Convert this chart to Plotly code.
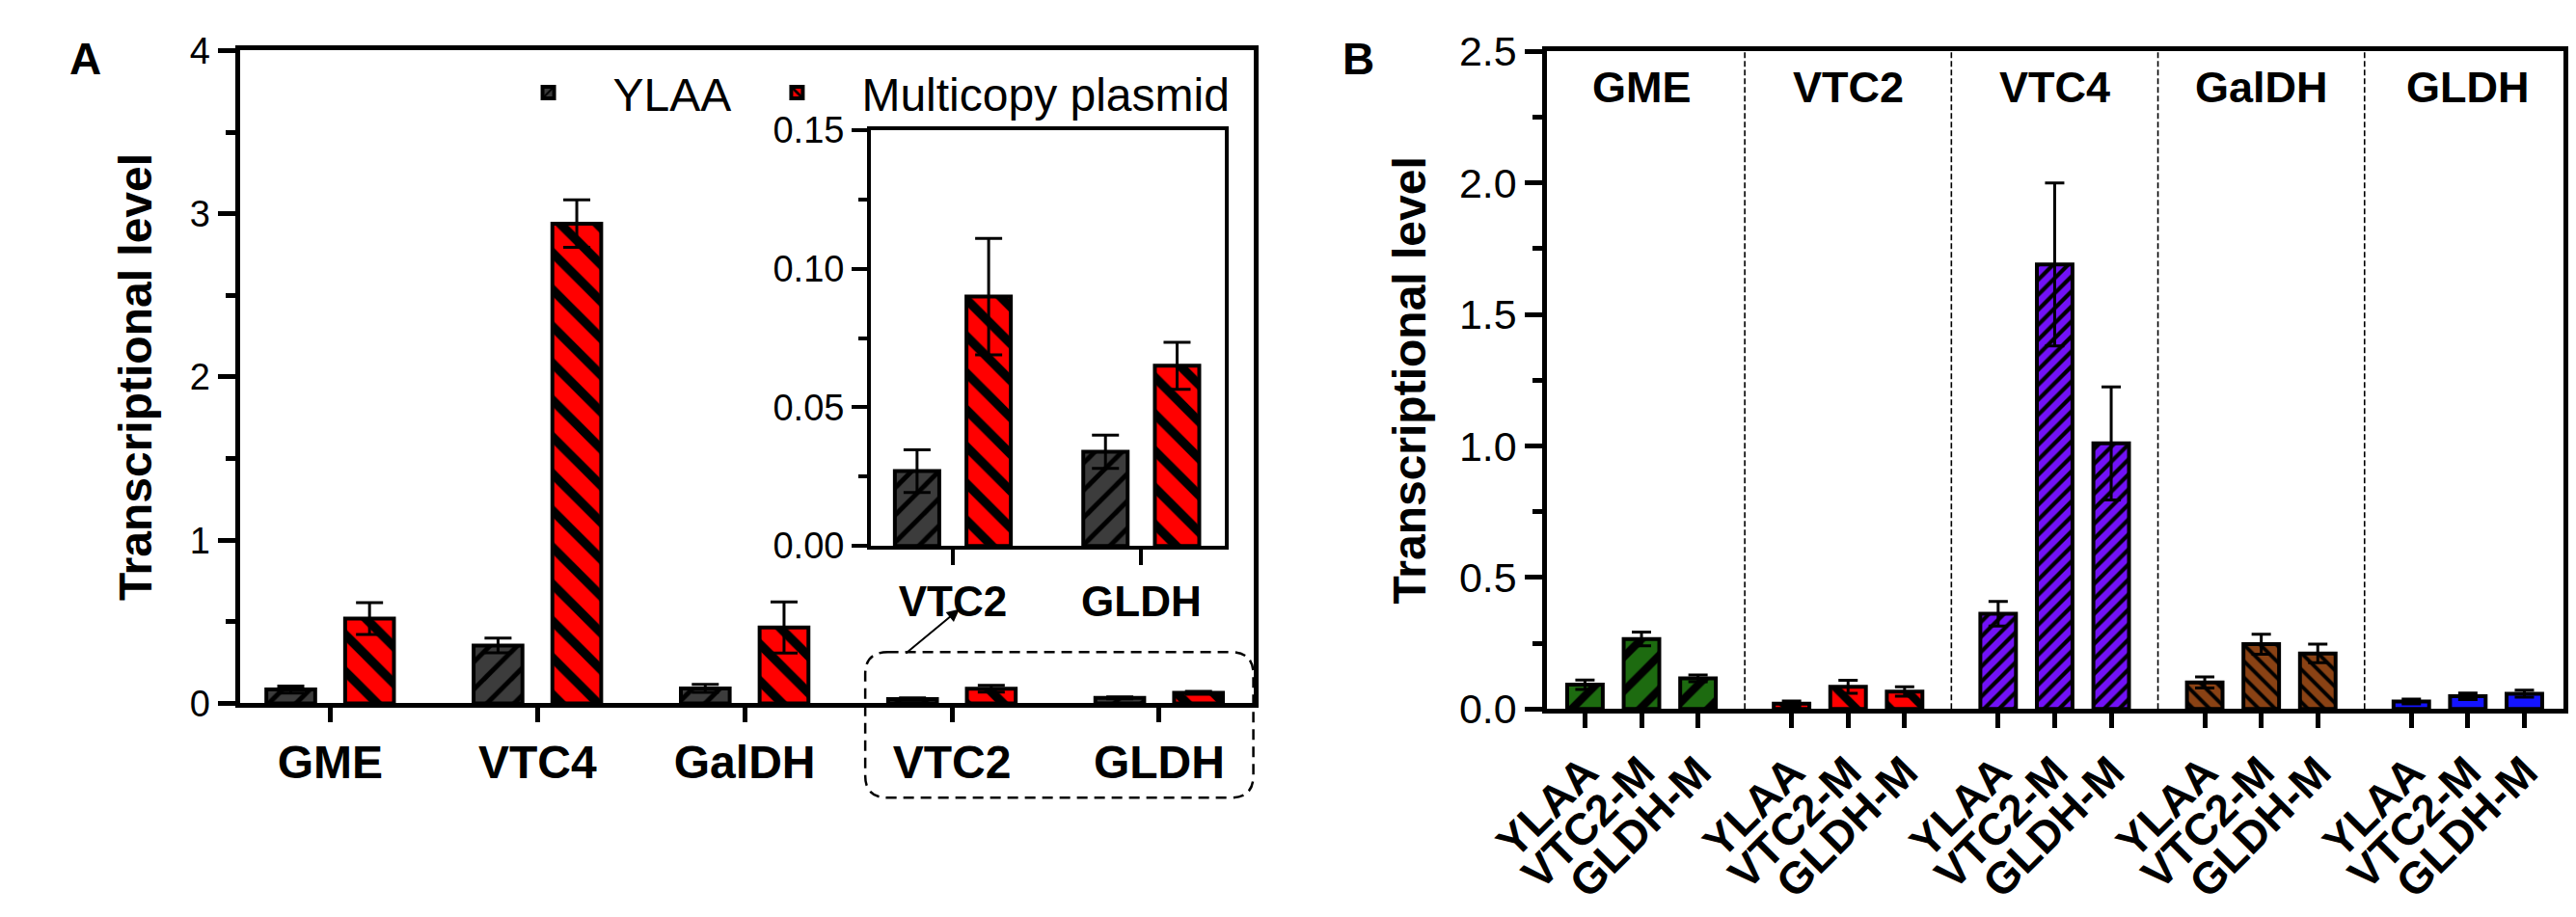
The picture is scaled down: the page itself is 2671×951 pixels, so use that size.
import plotly.graph_objects as go

W, H = 2671, 951
FONT = "Liberation Sans, Arial, Helvetica, sans-serif"

# ---------------- data: panel A ----------------
genes_a = ["GME", "VTC4", "GalDH", "VTC2", "GLDH"]
ylaa_a = [0.085, 0.355, 0.092, 0.027, 0.034]
ylaa_a_err = [0.022, 0.045, 0.024, 0.0077, 0.006]
multi_a = [0.52, 2.94, 0.465, 0.090, 0.065]
multi_a_err = [0.097, 0.145, 0.157, 0.021, 0.0085]
inset_genes = ["VTC2", "GLDH"]          # zoomed part of panel A

# ---------------- data: panel B ----------------
strains_b = ["YLAA", "VTC2-M", "GLDH-M"]
genes_b = ["GME", "VTC2", "VTC4", "GalDH", "GLDH"]
gme_b = [0.092, 0.266, 0.116]
gme_b_err = [0.018, 0.026, 0.013]
vtc2_b = [0.020, 0.084, 0.066]
vtc2_b_err = [0.010, 0.025, 0.018]
vtc4_b = [0.362, 1.69, 1.01]
vtc4_b_err = [0.047, 0.31, 0.215]
galdh_b = [0.101, 0.246, 0.211]
galdh_b_err = [0.021, 0.038, 0.035]
gldh_b = [0.028, 0.048, 0.058]
gldh_b_err = [0.009, 0.012, 0.013]

# ---------------- helpers (pixel -> paper) ----------------
def fx(p):
    return p / W


def fy(p):
    return 1 - p / H


GRAY = "#3c3c3c"
RED = "#ff0000"
B_COLORS = ["#1d6b10", "#ff0000", "#7212f6", "#8a4214", "#1414ff"]
B_PATTERNS = [("/", 25, 0.33), ("\\", 25, 0.33), ("/", 11, 0.38), ("\\", 12, 0.32), ("", 10, 0.3)]


def marker(fill, shape, size, sol, lw=4):
    m = dict(color=fill, line=dict(color="black", width=lw))
    if shape:
        m["pattern"] = dict(shape=shape, fgcolor="black", bgcolor=fill,
                            size=size, solidity=sol, fillmode="replace")
    return m


def err(arr, w=14, t=3):
    return dict(type="data", array=arr, visible=True, color="black", thickness=t, width=w)


fig = go.Figure()

# ---- panel A main ----
fig.add_trace(go.Bar(x=genes_a, y=ylaa_a, name="YLAA", error_y=err(ylaa_a_err),
                     marker=marker(GRAY, "/", 20, 0.25), xaxis="x", yaxis="y",
                     legendgroup="ylaa", legend="legend"))
fig.add_trace(go.Bar(x=genes_a, y=multi_a, name="Multicopy plasmid", error_y=err(multi_a_err),
                     marker=marker(RED, "\\", 27, 0.35), xaxis="x", yaxis="y",
                     legendgroup="multi", legend="legend2"))

# ---- panel A inset (same VTC2 / GLDH values, zoomed) ----
sel = [genes_a.index(g) for g in inset_genes]
fig.add_trace(go.Bar(x=inset_genes, y=[ylaa_a[i] for i in sel], name="YLAA",
                     error_y=err([ylaa_a_err[i] for i in sel]),
                     marker=marker(GRAY, "/", 20, 0.25), xaxis="x2", yaxis="y2",
                     legendgroup="ylaa", showlegend=False))
fig.add_trace(go.Bar(x=inset_genes, y=[multi_a[i] for i in sel], name="Multicopy plasmid",
                     error_y=err([multi_a_err[i] for i in sel]),
                     marker=marker(RED, "\\", 27, 0.35), xaxis="x2", yaxis="y2",
                     legendgroup="multi", showlegend=False))

# ---- panel B ----
vals_b = [gme_b, vtc2_b, vtc4_b, galdh_b, gldh_b]
errs_b = [gme_b_err, vtc2_b_err, vtc4_b_err, galdh_b_err, gldh_b_err]
BW = 0.63
for k in range(5):
    shp, sz, sol = B_PATTERNS[k]
    fig.add_trace(go.Bar(x=strains_b, y=vals_b[k], name=genes_b[k],
                         error_y=err(errs_b[k], w=10, t=3),
                         marker=marker(B_COLORS[k], shp, sz, sol),
                         width=BW, offset=-BW / 2,
                         xaxis=f"x{k + 3}", yaxis=f"y{k + 3}", showlegend=False))

# ---------------- layout ----------------
tick_font = dict(family=FONT, size=38, color="black")
cat_font = dict(family=FONT, size=48, color="black", weight="bold")
title_font = dict(family=FONT, size=48, color="black", weight="bold")
legend_font = dict(family=FONT, size=48, color="black")

common_x = dict(type="category", showline=True, linecolor="black", mirror=True,
                ticks="outside", tickcolor="black", showgrid=False, zeroline=False,
                fixedrange=True)
common_y = dict(showline=True, linecolor="black", mirror=True, ticks="outside",
                tickcolor="black", showgrid=False, zeroline=False, fixedrange=True)

LEG_ITEMW = 124
layout = dict(
    width=W, height=H, margin=dict(l=0, r=0, t=0, b=0),
    paper_bgcolor="white", plot_bgcolor="white",
    barmode="group", bargap=0.24, bargroupgap=0.38,
    font=dict(family=FONT, color="black"),
    showlegend=True,
    legend=dict(orientation="h", x=fx(450), xanchor="left", y=fy(36), yanchor="top",
                font=legend_font, bgcolor="rgba(0,0,0,0)", itemwidth=LEG_ITEMW),
    legend2=dict(orientation="h", x=fx(714), xanchor="left", y=fy(36), yanchor="top",
                 font=legend_font, bgcolor="rgba(0,0,0,0)", itemwidth=LEG_ITEMW),
)

# main A axes
A_L, A_R, A_T, A_B = 191, 1267, 30, 743
ua = 220.0
ca0 = 287.0
layout["xaxis"] = dict(common_x, domain=[fx(A_L), fx(A_R)], anchor="y",
                       range=[-(ca0 - A_L) / ua, (A_R - ca0) / ua],
                       linewidth=5, ticklen=15, tickwidth=5, tickfont=cat_font)
layout["yaxis"] = dict(common_y, domain=[fy(A_B), fy(A_T)], anchor="x", range=[0, 4],
                       tick0=0, dtick=1, linewidth=5, ticklen=18, tickwidth=5,
                       tickfont=tick_font,
                       minor=dict(dtick=0.5, tick0=0, ticks="outside", ticklen=10,
                                  tickwidth=5, tickcolor="black", showgrid=False),
                       title=dict(text="Transcriptional level", font=title_font, standoff=26))

# inset axes
I_L, I_R, I_T, I_B = 861, 1237, 117, 571
ui = 200.0
ci0 = 948.0
layout["xaxis2"] = dict(common_x, domain=[fx(I_L), fx(I_R)], anchor="y2",
                        range=[-(ci0 - I_L) / ui, 1 + (I_R - ci0 - ui) / ui],
                        linewidth=4, ticklen=16, tickwidth=4,
                        tickfont=dict(family=FONT, size=44, color="black", weight="bold"))
layout["yaxis2"] = dict(common_y, domain=[fy(I_B), fy(I_T)], anchor="x2", range=[0, 0.15],
                        tick0=0, dtick=0.05, tickformat=".2f", linewidth=4, ticklen=16,
                        tickwidth=4, tickfont=tick_font,
                        minor=dict(dtick=0.025, tick0=0, ticks="outside", ticklen=9,
                                   tickwidth=4, tickcolor="black", showgrid=False))

# panel B axes: one sub-axis per gene group
B_L, B_R, B_T, B_B = 1579, 2658, 31, 749
ub = 60.0
cb0 = 1679.0
pitch = 219.3
centers = [cb0 + k * pitch for k in range(5)]
bounds = [B_L] + [cb0 + (k + 0.5) * pitch for k in range(4)] + [B_R]
for k in range(5):
    xn = f"xaxis{k + 3}"
    yn = f"yaxis{k + 3}"
    d0, d1 = bounds[k], bounds[k + 1]
    c = centers[k]
    layout[xn] = dict(common_x, domain=[fx(d0), fx(d1)], anchor=f"y{k + 3}",
                      range=[1 - (c - d0) / ub, 1 + (d1 - c) / ub],
                      linewidth=5, ticklen=15, tickwidth=5, tickangle=-45,
                      tickfont=dict(family=FONT, size=46, color="black", weight="bold"))
    ydict = dict(domain=[fy(B_B), fy(B_T)], anchor=f"x{k + 3}", range=[0, 2.5],
                 fixedrange=True, showgrid=False, zeroline=False)
    if k == 0:
        ydict.update(common_y)
        ydict.update(mirror=False, tick0=0, dtick=0.5, tickformat=".1f", linewidth=5,
                     ticklen=18, tickwidth=5,
                     tickfont=dict(family=FONT, size=43, color="black"),
                     minor=dict(dtick=0.25, tick0=0, ticks="outside", ticklen=10,
                                tickwidth=5, tickcolor="black", showgrid=False),
                     title=dict(text="Transcriptional level", font=title_font, standoff=21))
    elif k == 4:
        ydict.update(side="right", showline=True, linecolor="black", linewidth=5,
                     ticks="", showticklabels=False)
    else:
        ydict.update(visible=False)
    layout[yn] = ydict

shapes = []
# dashed separators between gene groups in panel B
for b in bounds[1:-1]:
    shapes.append(dict(type="line", xref="paper", yref="paper",
                       x0=fx(b), x1=fx(b), y0=fy(B_B), y1=fy(B_T),
                       line=dict(color="black", width=1.6, dash="6px,3px"), layer="below"))

# dashed rounded box marking the zoomed region of panel A
bx0, bx1, by0, by1, r = 855, 1267, 687, 846, 24
pts = [("M", bx0 + r, by0), ("L", bx1 - r, by0), ("Q", bx1, by0, bx1, by0 + r),
       ("L", bx1, by1 - r), ("Q", bx1, by1, bx1 - r, by1), ("L", bx0 + r, by1),
       ("Q", bx0, by1, bx0, by1 - r), ("L", bx0, by0 + r), ("Q", bx0, by0, bx0 + r, by0)]
path = ""
for p in pts:
    cmd, coords = p[0], p[1:]
    xy = []
    for i in range(0, len(coords), 2):
        xy.append(f"{fx(coords[i]):.5f},{fy(coords[i + 1]):.5f}")
    path += cmd + " " + " ".join(xy) + " "
path += "Z"
shapes.append(dict(type="path", xref="paper", yref="paper", path=path,
                   line=dict(color="black", width=2.5, dash="11px,7px")))
layout["shapes"] = shapes

annotations = [
    dict(text="A", x=fx(8), y=fy(10), xref="paper", yref="paper", xanchor="left",
         yanchor="top", showarrow=False, font=dict(family=FONT, size=46, color="black", weight="bold")),
    dict(text="B", x=fx(1360), y=fy(10), xref="paper", yref="paper", xanchor="left",
         yanchor="top", showarrow=False, font=dict(family=FONT, size=46, color="black", weight="bold")),
    # arrow from the dashed box to the inset
    dict(text="", x=fx(955), y=fy(640), xref="paper", yref="paper", showarrow=True,
         ax=-57, ay=47, arrowhead=2, arrowsize=1.3, arrowwidth=2, arrowcolor="black"),
]
for k in range(5):
    annotations.append(dict(text=genes_b[k], xref=f"x{k + 3}", x=1, yref="paper", y=fy(70),
                            yanchor="middle", xanchor="center", showarrow=False,
                            font=dict(family=FONT, size=45, color="black", weight="bold")))
layout["annotations"] = annotations

fig.update_layout(**layout)

fig.write_html("out.html", config={"displayModeBar": False},
               post_script="document.body.style.margin='0';document.body.style.overflow='hidden';")
